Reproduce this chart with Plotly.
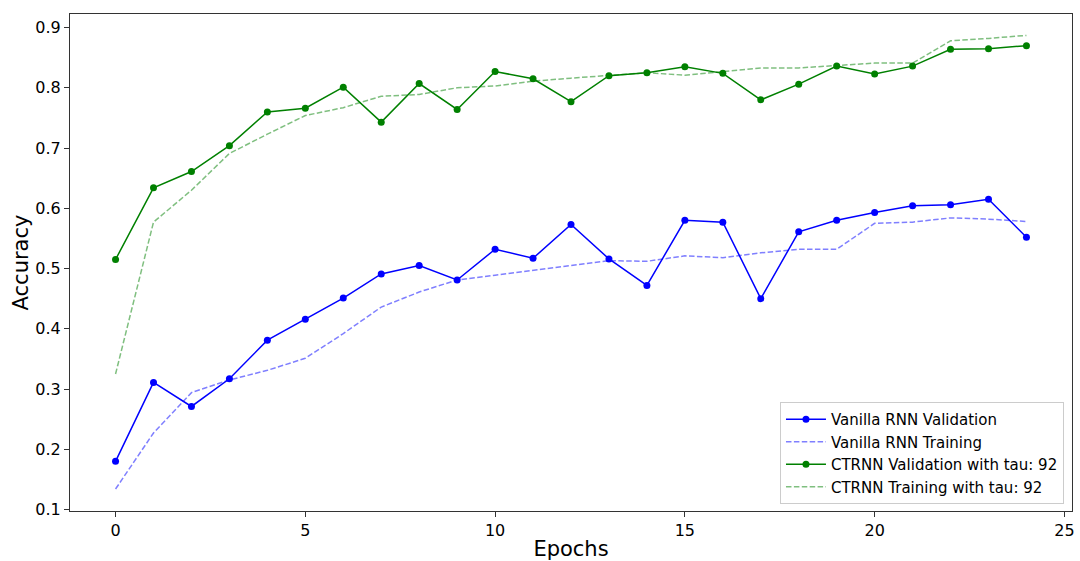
import plotly.graph_objects as go

epochs = list(range(25))

vanilla_val = [0.180, 0.311, 0.271, 0.317, 0.381, 0.416, 0.451, 0.491, 0.505,
               0.481, 0.532, 0.517, 0.573, 0.516, 0.472, 0.580, 0.577, 0.450,
               0.561, 0.580, 0.593, 0.604, 0.606, 0.615, 0.552]
vanilla_train = [0.134, 0.227, 0.294, 0.315, 0.331, 0.351, 0.392, 0.436, 0.461,
                 0.481, 0.489, 0.497, 0.505, 0.513, 0.512, 0.521, 0.518, 0.526,
                 0.532, 0.532, 0.575, 0.577, 0.584, 0.582, 0.578]
ctrnn_val = [0.515, 0.634, 0.661, 0.704, 0.760, 0.766, 0.801, 0.743, 0.807,
             0.764, 0.827, 0.815, 0.777, 0.820, 0.825, 0.835, 0.824, 0.780,
             0.806, 0.836, 0.823, 0.836, 0.864, 0.865, 0.870]
ctrnn_train = [0.325, 0.577, 0.630, 0.691, 0.723, 0.754, 0.767, 0.786, 0.789,
               0.800, 0.803, 0.811, 0.816, 0.821, 0.825, 0.821, 0.827, 0.833,
               0.833, 0.837, 0.841, 0.841, 0.878, 0.882, 0.887]

x_ticks = [0, 5, 10, 15, 20, 25]
y_ticks = [0.1, 0.2, 0.3, 0.4, 0.5, 0.6, 0.7, 0.8, 0.9]

FONT = "DejaVu Sans, Liberation Sans, sans-serif"
DASH = "5.5px,2.4px"

fig = go.Figure()
fig.add_trace(go.Scatter(x=epochs, y=vanilla_val, mode="lines+markers",
                         name="Vanilla RNN Validation",
                         line=dict(color="#0000ff", width=1.5),
                         marker=dict(color="#0000ff", size=7)))
fig.add_trace(go.Scatter(x=epochs, y=vanilla_train, mode="lines",
                         name="Vanilla RNN Training",
                         line=dict(color="rgba(0,0,255,0.5)", width=1.5, dash=DASH)))
fig.add_trace(go.Scatter(x=epochs, y=ctrnn_val, mode="lines+markers",
                         name="CTRNN Validation with tau: 92",
                         line=dict(color="#008000", width=1.5),
                         marker=dict(color="#008000", size=7)))
fig.add_trace(go.Scatter(x=epochs, y=ctrnn_train, mode="lines",
                         name="CTRNN Training with tau: 92",
                         line=dict(color="rgba(0,128,0,0.5)", width=1.5, dash=DASH)))

axis_common = dict(showline=True, linecolor="#333333", linewidth=1, mirror=True,
                   ticks="outside", ticklen=5, tickcolor="#333333", showgrid=False,
                   zeroline=False, automargin=False,
                   tickfont=dict(family=FONT, size=16, color="black"))

fig.update_layout(
    width=1080, height=561,
    margin=dict(l=70, r=8, t=14, b=50),
    paper_bgcolor="white", plot_bgcolor="white",
    font=dict(family=FONT, color="black"),
    xaxis=dict(range=[-1.2, 25.2], tickvals=x_ticks,
               title=dict(text="Epochs", font=dict(family=FONT, size=21), standoff=6),
               **axis_common),
    yaxis=dict(range=[0.0975, 0.9225], tickvals=y_ticks,
               ticktext=[f"{v:.1f}" for v in y_ticks],
               title=dict(text="Accuracy", font=dict(family=FONT, size=21), standoff=0),
               **axis_common),
    legend=dict(x=0.992, y=0.014, xanchor="right", yanchor="bottom",
                bgcolor="rgba(255,255,255,0.8)", bordercolor="#cccccc", borderwidth=1,
                font=dict(family=FONT, size=15), tracegroupgap=0, itemwidth=40),
    showlegend=True,
)

fig.write_html("out.html")
